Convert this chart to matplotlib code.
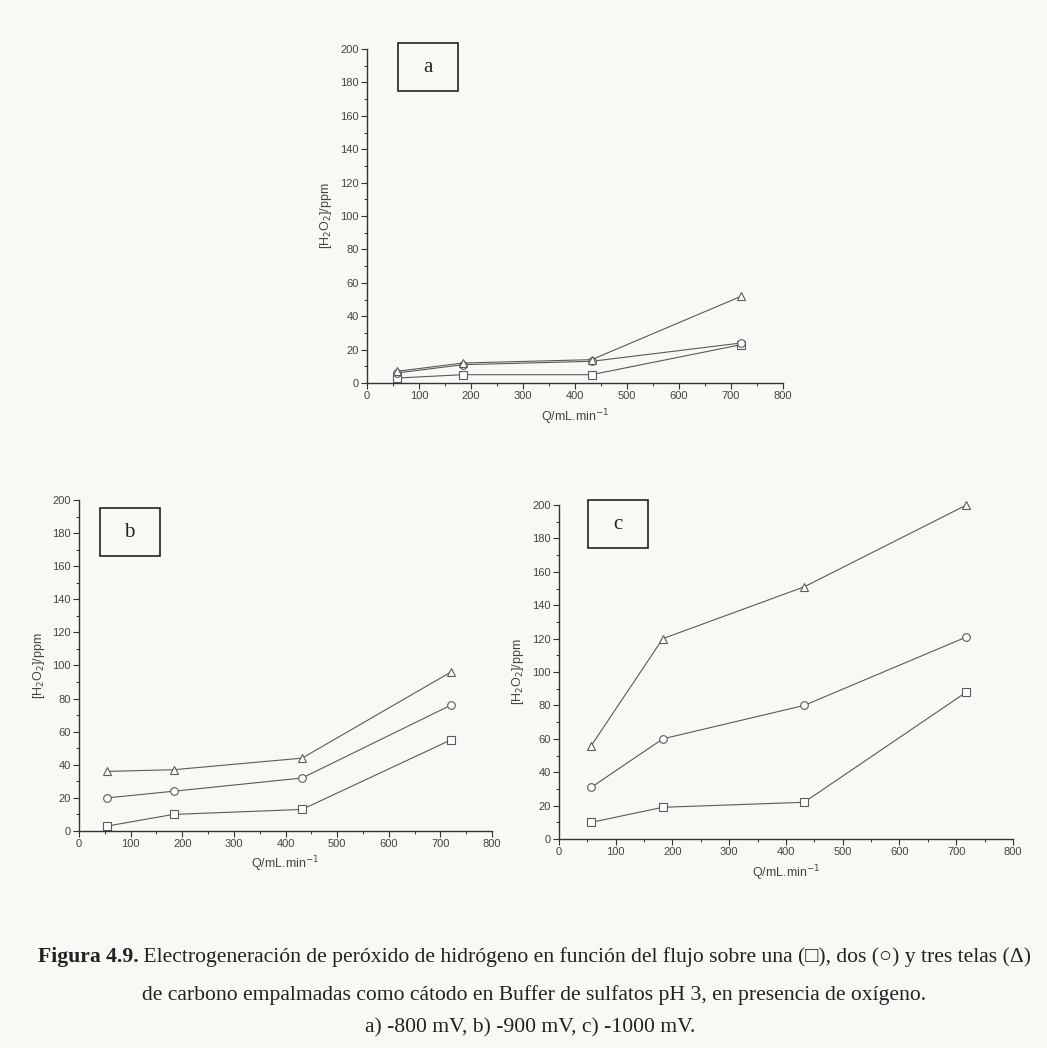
import matplotlib.pyplot as plt
from matplotlib.patches import Rectangle
from matplotlib.ticker import MultipleLocator

# Flow rate (mL/min) and H2O2 concentration (ppm), one / two / three carbon cloths
q_a = [57, 185, 432, 720]
una_a = [3, 5, 5, 23]
dos_a = [6, 11, 13, 24]
tres_a = [7, 12, 14, 52]

q_b = [55, 183, 432, 720]
una_b = [3, 10, 13, 55]
dos_b = [20, 24, 32, 76]
tres_b = [36, 37, 44, 96]

q_c = [57, 183, 432, 718]
una_c = [10, 19, 22, 88]
dos_c = [31, 60, 80, 121]
tres_c = [56, 120, 151, 200]

panel_labels = ['a', 'b', 'c']
caption_bold = 'Figura 4.9.'
caption_1 = (' Electrogeneración de peróxido de hidrógeno en función del flujo sobre una (□), '
             'dos (○) y tres telas (Δ)')
caption_2 = 'de carbono empalmadas como cátodo en Buffer de sulfatos pH 3, en presencia de oxígeno.'
caption_3 = 'a) -800 mV, b) -900 mV, c) -1000 mV.'

bg = '#f8f8f5'
line_col = '#5a5a5a'
ink = '#333333'

plt.rcParams['font.family'] = ['Liberation Sans', 'DejaVu Sans']

fig = plt.figure(figsize=(10.47, 10.48), dpi=100, facecolor=bg)


def panel(rect, q, una, dos, tres, label, box):
    ax = fig.add_axes(rect)
    ax.set_facecolor('none')
    for ys, mk in [(una, 's'), (dos, 'o'), (tres, '^')]:
        ax.plot(q, ys, color=line_col, lw=0.8, marker=mk, ms=5.5,
                mfc='white', mec=line_col, mew=0.8, clip_on=False)
    ax.set_xlim(0, 800)
    ax.set_ylim(0, 200)
    ax.xaxis.set_major_locator(MultipleLocator(100))
    ax.xaxis.set_minor_locator(MultipleLocator(50))
    ax.yaxis.set_major_locator(MultipleLocator(20))
    ax.yaxis.set_minor_locator(MultipleLocator(10))
    for s in ['top', 'right']:
        ax.spines[s].set_visible(False)
    for s in ['left', 'bottom']:
        ax.spines[s].set_color(ink)
        ax.spines[s].set_linewidth(1.0)
    ax.tick_params(which='major', direction='out', length=4, width=0.8,
                   color=ink, labelsize=8, labelcolor='#444444', pad=2)
    ax.tick_params(which='minor', direction='out', length=2.5, width=0.7, color=ink)
    ax.set_xlabel('Q/mL.min$^{-1}$', fontsize=9, color='#444444', labelpad=4)
    ax.set_ylabel('[H$_2$O$_2$]/ppm', fontsize=9, color='#444444', labelpad=4)
    # letter box
    ax.add_patch(Rectangle((box[0], box[1]), box[2], box[3], transform=ax.transAxes,
                           fill=False, ec='#222222', lw=1.2, clip_on=False))
    ax.text(box[0] + box[2] / 2, box[1] + box[3] / 2, label, transform=ax.transAxes,
            ha='center', va='center', fontsize=15, family='Liberation Serif', color='#222222')
    return ax


panel([0.3505, 0.6345, 0.3973, 0.3187], q_a, una_a, dos_a, tres_a, panel_labels[0],
      (0.074, 0.873, 0.144, 0.144))
panel([0.0755, 0.2071, 0.3945, 0.3158], q_b, una_b, dos_b, tres_b, panel_labels[1],
      (0.05, 0.83, 0.145, 0.145))
panel([0.5339, 0.1994, 0.4336, 0.3187], q_c, una_c, dos_c, tres_c, panel_labels[2],
      (0.064, 0.871, 0.132, 0.144))

serif = ['Liberation Serif', 'DejaVu Serif']
cap_size = 15.6
t = fig.text(0.036, 0.0868, caption_bold, fontsize=cap_size, fontweight='bold', family=serif,
             color='#222222', va='center')
fig.canvas.draw()
bb = t.get_window_extent()
fig.text(bb.x1 / fig.bbox.width, 0.0868, caption_1, fontsize=cap_size, family=serif,
         color='#222222', va='center')
fig.text(0.510, 0.0506, caption_2, fontsize=cap_size, family=serif, color='#222222',
         ha='center', va='center')
fig.text(0.506, 0.019, caption_3, fontsize=cap_size, family=serif, color='#222222',
         ha='center', va='center')

fig.savefig('out.png', dpi=100, facecolor=bg)
